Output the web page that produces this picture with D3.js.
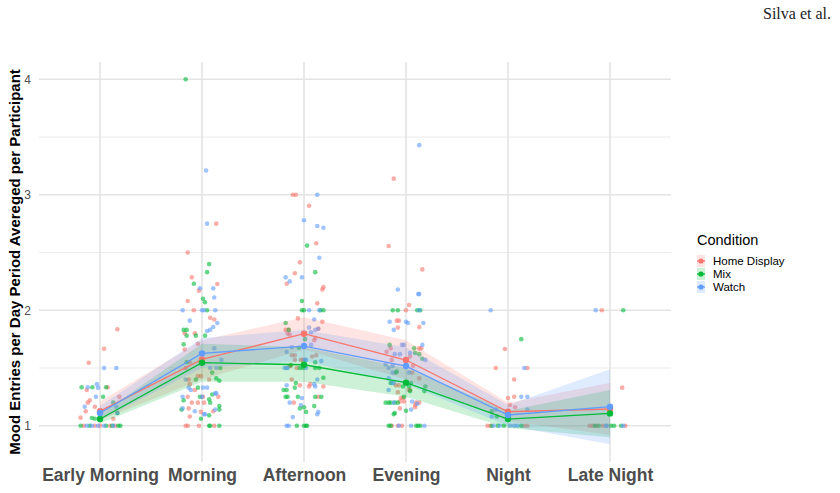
<!DOCTYPE html>
<html>
<head>
<meta charset="utf-8">
<script src="https://cdn.jsdelivr.net/npm/d3@7"></script>
<style>
  body { margin: 0; background: #fff; }
  svg { display: block; font-family: "Liberation Sans", Arial, sans-serif; }
</style>
</head>
<body>
<svg id="chart" width="840" height="493"></svg>
<script>
// categorias e condições
var categories = ["Early Morning", "Morning", "Afternoon", "Evening", "Night", "Late Night"];
var conditions = ["Home Display", "Mix", "Watch"];
var colors = ["#F8766D", "#00BA38", "#619CFF"];
var yTicks = [1, 2, 3, 4];

// médias por período
var homeMean  = [1.127, 1.575, 1.797, 1.569, 1.121, 1.145];
var mixMean   = [1.058, 1.546, 1.528, 1.373, 1.058, 1.107];
var watchMean = [1.110, 1.627, 1.690, 1.517, 1.093, 1.165];

// intervalos de confiança
var homeLow  = [1.05, 1.40, 1.66, 1.40, 1.04, 0.92];
var homeHigh = [1.21, 1.74, 1.94, 1.74, 1.20, 1.37];
var mixLow   = [1.02, 1.38, 1.38, 1.25, 0.98, 0.90];
var mixHigh  = [1.10, 1.71, 1.68, 1.50, 1.13, 1.31];
var watchLow  = [1.05, 1.50, 1.56, 1.36, 1.00, 0.84];
var watchHigh = [1.17, 1.76, 1.83, 1.68, 1.18, 1.49];

// pontos por participante: [período, jitter, valor]
var homePts = [
  [0,.17,1.835],[0,.04,1.667],[0,-.11,1.546],[0,.075,1.333],[0,-.13,1.31],[0,.19,1.25],[0,-.1,1.22],[0,-.12,1.2],[0,-.05,1.165],[0,-.14,1.125],[0,-.19,1.07],[0,0,1.05],[0,.13,1.06],
  [0,-.16,1],[0,-.05,1],[0,0,1],[0,.1,1],[0,.15,1],
  [1,.14,2.75],[1,-.14,2.5],[1,-.1,2.285],[1,.15,2.227],[1,-.03,2.17],[1,-.14,2.08],[1,-.08,2.0],[1,.08,1.935],[1,.12,1.92],[1,-.17,1.8],[1,-.07,1.8],[1,-.17,1.66],[1,-.04,1.71],[1,-.12,1.55],[1,-.16,1.5],[1,-.04,1.43],[1,-.01,1.43],[1,-.13,1.4],[1,-.12,1.36],[1,.07,1.4],[1,-.07,1.31],[1,.01,1.25],[1,.16,1.25],[1,-.14,1.25],[1,-.1,1.2],[1,-.04,1.2],[1,.02,1.2],[1,-.13,1.15],[1,-.01,1.12],[1,.11,1.125],[1,-.12,1.08],
  [1,-.16,1],[1,-.14,1],[1,-.03,1],[1,.12,1],
  [2,-.11,3],[2,-.08,3],[2,.05,2.905],[2,.12,2.58],[2,-.04,2.415],[2,-.09,2.32],[2,-.17,2.23],[2,.18,2.18],[2,.19,2.2],[2,.13,2.06],[2,-.06,1.93],[2,.18,1.9],[2,-.18,1.83],[2,-.16,1.8],[2,-.15,1.83],[2,.14,1.84],[2,-.14,1.79],[2,.11,1.76],[2,.1,1.74],[2,-.12,1.61],[2,-.09,1.61],[2,.12,1.61],[2,.08,1.6],[2,-.09,1.57],[2,-.03,1.57],[2,-.01,1.57],[2,-.14,1.52],[2,-.13,1.52],[2,-.07,1.5],[2,-.12,1.4],[2,-.04,1.35],[2,.05,1.34],[2,.06,1.36],[2,.19,1.34],[2,.14,1.25],[2,-.1,1.2],
  [3,-.12,3.14],[3,-.17,2.556],[3,.16,2.354],[3,.03,2.045],[3,0,2.0],[3,-.09,1.91],[3,-.07,1.91],[3,.13,1.855],[3,-.08,1.85],[3,-.15,1.67],[3,.13,1.67],[3,.15,1.67],[3,-.19,1.64],[3,.04,1.6],[3,.07,1.52],[3,-.14,1.57],[3,.06,1.46],[3,.13,1.41],[3,-.1,1.35],[3,-.07,1.35],[3,.03,1.31],[3,.04,1.31],[3,-.08,1.29],[3,-.05,1.24],[3,-.03,1.24],[3,-.06,1.21],[3,-.02,1.21],[3,.1,1.2],[3,.13,1.2],[3,.09,1.18],[3,.09,1.16],[3,-.06,1.15],
  [3,-.14,1],[3,-.08,1],[3,-.04,1],
  [4,-.03,1.665],[4,-.12,1.5],[4,.19,1.5],[4,.06,1.4],[4,0,1.24],[4,.06,1.25],[4,.02,1.18],[4,.07,1.16],
  [4,-.2,1],[4,-.17,1],[4,.16,1],[4,.19,1],
  [5,-.08,2.0],[5,.12,1.33],
  [5,-.2,1],[5,-.17,1],[5,-.13,1],[5,-.07,1],[5,.15,1]
];
var mixPts = [
  [0,-.18,1.333],[0,-.075,1.333],[0,.06,1.333],[0,.03,1.25],[0,.13,1.2],[0,.17,1.11],[0,-.08,1.067],[0,-.05,1.06],
  [0,-.19,1],[0,-.1,1],[0,.06,1],[0,.12,1],[0,.18,1],[0,.2,1],
  [1,-.16,4.0],[1,.07,2.4],[1,.05,2.33],[1,-.08,2.23],[1,.01,2.1],[1,.03,2.07],[1,.05,2.0],[1,-.18,1.83],[1,-.15,1.83],[1,-.15,1.78],[1,-.06,1.78],[1,.03,1.78],[1,-.18,1.705],[1,-.15,1.55],[1,.18,1.5],[1,.1,1.46],[1,.14,1.41],[1,.17,1.39],[1,-.06,1.4],[1,-.04,1.33],[1,-.02,1.25],[1,.07,1.23],[1,.1,1.27],[1,.08,1.2],[1,-.18,1.22],[1,-.2,1.14],[1,.17,1.14],[1,.17,1.17],[1,-.01,1.06],[1,.07,1.09],
  [1,.07,1],[1,.08,1],[1,.17,1],
  [2,.03,2.56],[2,.11,2.33],[2,-.02,2.08],[2,-.02,2.0],[2,0,2.0],[2,.16,2.0],[2,.19,2.0],[2,-.18,1.89],[2,-.15,1.83],[2,.01,1.75],[2,-.05,1.675],[2,.11,1.55],[2,-.13,1.525],[2,.11,1.5],[2,.15,1.5],[2,-.04,1.5],[2,-.01,1.5],[2,.19,1.415],[2,-.08,1.37],[2,-.2,1.31],[2,-.17,1.31],[2,-.09,1.33],[2,-.18,1.25],[2,-.16,1.25],[2,-.06,1.25],[2,.11,1.25],[2,.17,1.25],[2,.1,1.17],[2,-.04,1.15],[2,0,1.16],[2,.02,1.12],
  [2,-.07,1],[2,0,1],[2,.02,1],[2,.03,1],
  [3,-.13,2.0],[3,-.08,2.0],[3,.11,2.0],[3,.14,2.0],[3,-.16,1.7],[3,.08,1.67],[3,.09,1.63],[3,.13,1.62],[3,.16,1.58],[3,-.1,1.46],[3,-.09,1.47],[3,-.15,1.37],[3,-.03,1.34],[3,.03,1.34],[3,.05,1.37],[3,.19,1.34],[3,.18,1.3],[3,.04,1.3],[3,-.02,1.25],[3,-.2,1.2],[3,-.17,1.2],[3,-.15,1.2],[3,-.11,1.2],[3,-.08,1.2],[3,0,1.13],[3,-.12,1.1],[3,-.11,1.11],
  [3,-.17,1],[3,-.15,1],[3,.1,1],[3,.12,1],[3,.14,1],
  [4,.13,1.75],[4,-.16,1.125],[4,-.11,1.08],
  [4,-.16,1],[4,-.1,1],[4,-.04,1],[4,.13,1],
  [5,.13,2.0],
  [5,-.15,1],[5,-.11,1],[5,.01,1],[5,.04,1],[5,.11,1]
];
var watchPts = [
  [0,.04,1.5],[0,.16,1.5],[0,-.12,1.333],[0,-.03,1.36],[0,-.02,1.33],[0,-.04,1.25],[0,-.15,1.165],[0,.16,1.165],[0,.17,1.11],
  [0,-.13,1],[0,-.08,1],[0,-.02,1],[0,.04,1],[0,.13,1],
  [1,.04,3.21],[1,.05,2.75],[1,-.02,2.19],[1,.11,2.19],[1,.12,2.11],[1,-.19,2.0],[1,0,2.0],[1,.02,2.0],[1,.13,2.0],[1,-.12,1.91],[1,.15,1.89],[1,.11,1.855],[1,.08,1.83],[1,.05,1.82],[1,.12,1.67],[1,.19,1.57],[1,.08,1.5],[1,.14,1.5],[1,-.16,1.4],[1,-.13,1.33],[1,-.11,1.31],[1,.01,1.33],[1,.05,1.33],[1,0,1.25],[1,.13,1.28],[1,.14,1.28],[1,-.19,1.25],[1,-.19,1.15],[1,-.07,1.125],[1,.02,1.1],[1,.03,1.1],[1,.13,1.14],
  [2,.13,3.0],[2,0,2.78],[2,.13,2.73],[2,.19,2.715],[2,.15,2.455],[2,-.02,2.285],[2,-.18,2.285],[2,-.14,2.25],[2,.05,2.0],[2,.15,2.0],[2,.1,1.92],[2,.14,1.84],[2,.05,1.85],[2,.11,1.83],[2,.07,1.81],[2,-.17,1.64],[2,-.12,1.68],[2,.07,1.7],[2,.01,1.57],[2,.02,1.57],[2,.17,1.56],[2,-.19,1.5],[2,-.17,1.5],[2,-.16,1.5],[2,.02,1.5],[2,.13,1.4],[2,-.17,1.35],[2,.1,1.36],[2,.11,1.34],[2,-.02,1.24],[2,-.14,1.2],[2,-.03,1.18],[2,.14,1.12],[2,.13,1.1],[2,-.11,1.075],
  [2,-.17,1],[2,-.15,1],
  [3,.13,3.43],[3,-.08,2.18],[3,.12,2.14],[3,.13,2.14],[3,.13,2.0],[3,-.16,1.9],[3,0,1.9],[3,.02,1.89],[3,.17,1.89],[3,-.12,1.83],[3,-.04,1.7],[3,-.02,1.7],[3,.16,1.7],[3,-.11,1.62],[3,-.06,1.62],[3,.04,1.63],[3,.19,1.57],[3,-.2,1.53],[3,-.13,1.52],[3,-.17,1.5],[3,-.13,1.46],[3,.03,1.46],[3,-.17,1.41],[3,-.14,1.37],[3,-.12,1.37],[3,-.17,1.31],[3,-.12,1.2],[3,.06,1.21],[3,.11,1.19],[3,.05,1.14],
  [3,-.07,1],[3,.05,1],[3,.18,1],
  [4,-.17,2.0],[4,.16,1.5],[4,.13,1.25],[4,.19,1.25],[4,.19,1.14],[4,-.16,1.08],[4,-.12,1.14],
  [4,-.14,1],[4,-.08,1],[4,.02,1],[4,.06,1],[4,.09,1],
  [5,-.14,2.0],
  [5,-.04,1],[5,-.03,1],[5,.13,1]
];

var series = [
  { name: conditions[0], color: colors[0], mean: homeMean,  low: homeLow,  high: homeHigh,  pts: homePts },
  { name: conditions[1], color: colors[1], mean: mixMean,   low: mixLow,   high: mixHigh,   pts: mixPts },
  { name: conditions[2], color: colors[2], mean: watchMean, low: watchLow, high: watchHigh, pts: watchPts }
];

var svg = d3.select("#chart");

// escalas
var x = d3.scalePoint().domain(categories).range([100, 610]);
var step = x.step();
var y = d3.scaleLinear().domain([0.686, 4.15]).range([462, 62]);
var left = 39, right = 671;

// grade
var grid = svg.append("g");
grid.selectAll(".minor").data([1.5, 2.5, 3.5]).enter().append("line")
  .attr("x1", left).attr("x2", right)
  .attr("y1", function (d) { return y(d); }).attr("y2", function (d) { return y(d); })
  .attr("stroke", "#ebebeb").attr("stroke-width", 1);
grid.selectAll(".major").data(yTicks).enter().append("line")
  .attr("x1", left).attr("x2", right)
  .attr("y1", function (d) { return y(d); }).attr("y2", function (d) { return y(d); })
  .attr("stroke", "#e4e4e4").attr("stroke-width", 1.6);
grid.selectAll(".vert").data(categories).enter().append("line")
  .attr("x1", function (d) { return x(d); }).attr("x2", function (d) { return x(d); })
  .attr("y1", 62).attr("y2", 462)
  .attr("stroke", "#e4e4e4").attr("stroke-width", 1.6);

// pontos com jitter
series.forEach(function (s) {
  svg.append("g").selectAll("circle")
    .data(s.pts)
    .enter()
    .append("circle")
    .attr("cx", function (d) { return x(categories[d[0]]) + d[1] * step; })
    .attr("cy", function (d) { return y(d[2]); })
    .attr("r", 2.3)
    .attr("fill", s.color)
    .attr("fill-opacity", 0.6);
});

// faixas de confiança
var area = d3.area()
  .x(function (d, i) { return x(categories[i]); })
  .y0(function (d) { return y(d[0]); })
  .y1(function (d) { return y(d[1]); });
series.forEach(function (s) {
  svg.append("path")
    .datum(s.low.map(function (v, i) { return [v, s.high[i]]; }))
    .attr("d", area)
    .attr("fill", s.color)
    .attr("fill-opacity", 0.2);
});

// linhas e médias
var line = d3.line()
  .x(function (d, i) { return x(categories[i]); })
  .y(function (d) { return y(d); });
series.forEach(function (s) {
  svg.append("path")
    .datum(s.mean)
    .attr("d", line)
    .attr("fill", "none")
    .attr("stroke", s.color)
    .attr("stroke-width", 1.3);
  svg.append("g").selectAll("circle")
    .data(s.mean)
    .enter()
    .append("circle")
    .attr("cx", function (d, i) { return x(categories[i]); })
    .attr("cy", function (d) { return y(d); })
    .attr("r", 3.2)
    .attr("fill", s.color);
});

// eixo y
var yAxis = svg.append("g")
  .attr("transform", "translate(" + 33 + ",0)")
  .call(d3.axisLeft(y).tickValues(yTicks).tickSize(0).tickPadding(2).tickFormat(d3.format("d")));
yAxis.select(".domain").remove();
yAxis.selectAll("text").attr("font-size", 12).attr("fill", "#4d4d4d")
  .attr("font-family", "Liberation Sans, Arial, sans-serif");

// eixo x
var xAxis = svg.append("g")
  .attr("transform", "translate(0," + 466 + ")")
  .call(d3.axisBottom(x).tickSize(0).tickPadding(3));
xAxis.select(".domain").remove();
xAxis.selectAll("text").attr("font-size", 17.5).attr("font-weight", "bold").attr("fill", "#4d4d4d")
  .attr("font-family", "Liberation Sans, Arial, sans-serif");

// título do eixo y
svg.append("text")
  .attr("transform", "translate(20," + 262 + ") rotate(-90)")
  .attr("text-anchor", "middle")
  .attr("font-size", 15)
  .attr("font-weight", "bold")
  .attr("fill", "#000")
  .text("Mood Entries per Day Period Avereged per Participant");

// legenda
var legend = svg.append("g").attr("transform", "translate(697,0)");
legend.append("text")
  .attr("x", 0).attr("y", 245)
  .attr("font-size", 14.5)
  .attr("fill", "#000")
  .text("Condition");
series.forEach(function (s, i) {
  var cy = 261 + i * 13;
  legend.append("rect")
    .attr("x", 0).attr("y", cy - 6).attr("width", 8).attr("height", 12)
    .attr("fill", s.color).attr("fill-opacity", 0.2);
  legend.append("line")
    .attr("x1", 0).attr("x2", 8).attr("y1", cy).attr("y2", cy)
    .attr("stroke", s.color).attr("stroke-width", 1.3);
  legend.append("circle")
    .attr("cx", 4).attr("cy", cy).attr("r", 2.6)
    .attr("fill", s.color);
  legend.append("text")
    .attr("x", 16).attr("y", cy + 4.2)
    .attr("font-size", 11.5)
    .attr("fill", "#000")
    .text(s.name);
});

// cabeçalho
svg.append("text")
  .attr("x", 831).attr("y", 19)
  .attr("text-anchor", "end")
  .attr("font-family", "Liberation Serif, Times New Roman, serif")
  .attr("font-size", 16)
  .attr("fill", "#222")
  .text("Silva et al.");
</script>
</body>
</html>
